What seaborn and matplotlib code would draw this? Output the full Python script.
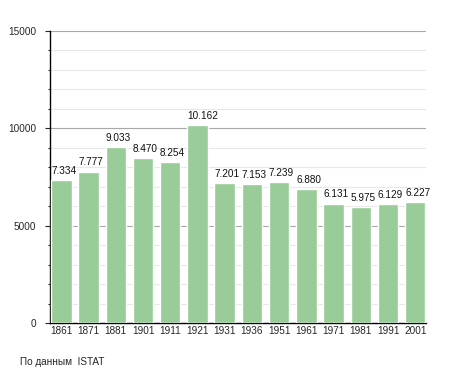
import matplotlib
matplotlib.use("Agg")
import matplotlib.pyplot as plt
import seaborn as sns
import pandas as pd
from matplotlib.ticker import MultipleLocator

# Population by census year
years = ["1861", "1871", "1881", "1901", "1911", "1921", "1931",
         "1936", "1951", "1961", "1971", "1981", "1991", "2001"]
population = [7334, 7777, 9033, 8470, 8254, 10162, 7201,
              7153, 7239, 6880, 6131, 5975, 6129, 6227]
y_ticks = [0, 5000, 10000, 15000]

df = pd.DataFrame({"year": years, "population": population})

sns.set_style("white")
plt.rcParams["font.family"] = ["Liberation Sans", "DejaVu Sans"]

fig = plt.figure(figsize=(4.55, 3.73), dpi=100)
ax = fig.add_axes([0.110, 0.134, 0.826, 0.783])

bar_w = 0.75
sns.barplot(data=df, x="year", y="population", color="#99cc99",
            saturation=1, width=bar_w, ax=ax, zorder=3)

# value labels (dot as thousands separator), left-aligned to bar edge
for i, v in enumerate(population):
    ax.annotate(f"{v:,}".replace(",", "."), xy=(i - bar_w / 2, v),
                xytext=(0, 3), textcoords="offset points",
                ha="left", va="bottom", fontsize=7.2, color="#111111",
                zorder=4)

ax.set_ylim(0, 15000)
ax.set_xlim(-0.415, len(years) - 1 + 0.39)
ax.set_yticks(y_ticks)
ax.yaxis.set_minor_locator(MultipleLocator(1000))
ax.grid(axis="y", which="major", color="#a8a8a8", linewidth=0.8, zorder=0)
ax.grid(axis="y", which="minor", color="#e8e8e8", linewidth=0.8, zorder=0)
ax.set_axisbelow(True)

ax.set_xlabel("")
ax.set_ylabel("")
ax.tick_params(axis="x", length=0, labelsize=7.2, pad=2.5)
ax.tick_params(axis="y", which="major", direction="out", length=3.5,
               width=0.8, labelsize=7.2, pad=6.5, left=True)
ax.tick_params(axis="y", which="minor", direction="out", length=1.8,
               width=0.8, left=True)

for side in ["top", "right"]:
    ax.spines[side].set_visible(False)
for side in ["left", "bottom"]:
    ax.spines[side].set_color("black")
    ax.spines[side].set_linewidth(1.0)

fig.text(20 / 455, 1 - 362 / 373, "По данным  ISTAT", fontsize=7.2,
         va="center", ha="left")

fig.savefig("out.png", dpi=100)
